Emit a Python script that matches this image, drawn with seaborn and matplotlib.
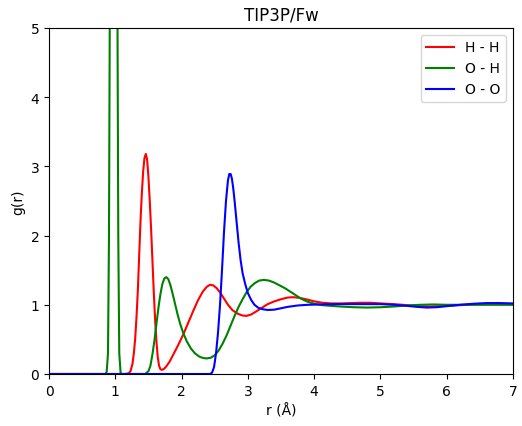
import matplotlib
matplotlib.use("Agg")
import matplotlib.pyplot as plt
import seaborn as sns
import pandas as pd

# H - H
r_hh = [0.0, 1.15, 1.20, 1.23, 1.26, 1.28, 1.30, 1.32, 1.34, 1.36, 1.38, 1.40, 1.42, 1.44,
        1.46, 1.48, 1.50, 1.52, 1.54, 1.56, 1.58, 1.60, 1.62, 1.64, 1.66, 1.68, 1.70,
        1.73, 1.77, 1.82, 1.88, 1.95, 2.03, 2.10, 2.18, 2.25, 2.32, 2.38, 2.43, 2.48,
        2.53, 2.58, 2.64, 2.70, 2.77, 2.85, 2.92, 2.98, 3.05, 3.12, 3.20, 3.30, 3.40,
        3.50, 3.60, 3.68, 3.78, 3.90, 4.00, 4.12, 4.25, 4.40, 4.55, 4.70, 4.85, 5.00,
        5.20, 5.40, 5.60, 5.75, 5.90, 6.10, 6.30, 6.50, 6.75, 7.0]
g_hh = [0.0, 0.0, 0.01, 0.04, 0.15, 0.30, 0.51, 0.82, 1.20, 1.70, 2.20, 2.60, 2.92, 3.12,
        3.18, 3.10, 2.85, 2.50, 2.10, 1.65, 1.20, 0.80, 0.48, 0.25, 0.12, 0.07, 0.06,
        0.07, 0.11, 0.18, 0.29, 0.42, 0.58, 0.74, 0.92, 1.07, 1.19, 1.26, 1.29, 1.28,
        1.24, 1.18, 1.09, 1.00, 0.92, 0.87, 0.845, 0.84, 0.86, 0.90, 0.95, 1.01, 1.05,
        1.08, 1.105, 1.11, 1.10, 1.075, 1.05, 1.03, 1.02, 1.02, 1.025, 1.03, 1.03, 1.02,
        1.01, 0.995, 0.98, 0.975, 0.98, 0.99, 1.00, 1.01, 1.01, 1.01]

# O - H
r_oh = [0.0, 0.85, 0.87, 0.89, 0.905, 0.92, 0.975, 1.03, 1.045, 1.06, 1.08, 1.10,
        1.45, 1.50, 1.53, 1.56, 1.59, 1.62, 1.65, 1.68, 1.71, 1.74, 1.77, 1.80, 1.83,
        1.86, 1.90, 1.94, 1.98, 2.03, 2.08, 2.14, 2.20, 2.27, 2.33, 2.38, 2.44, 2.50,
        2.56, 2.62, 2.68, 2.74, 2.80, 2.86, 2.92, 2.98, 3.04, 3.10, 3.17, 3.24, 3.32,
        3.40, 3.48, 3.56, 3.64, 3.72, 3.80, 3.90, 4.00, 4.12, 4.25, 4.40, 4.60, 4.80,
        5.00, 5.20, 5.40, 5.60, 5.80, 6.00, 6.30, 6.60, 7.0]
g_oh = [0.0, 0.0, 0.03, 0.30, 2.0, 6.0, 36.0, 6.0, 2.0, 0.30, 0.02, 0.0,
        0.0, 0.04, 0.12, 0.28, 0.48, 0.72, 0.95, 1.15, 1.30, 1.38, 1.40, 1.37, 1.29,
        1.18, 1.02, 0.86, 0.72, 0.58, 0.47, 0.37, 0.30, 0.25, 0.23, 0.225, 0.235, 0.27,
        0.34, 0.44, 0.56, 0.70, 0.84, 0.97, 1.08, 1.18, 1.26, 1.31, 1.35, 1.36, 1.35,
        1.32, 1.28, 1.24, 1.19, 1.14, 1.09, 1.045, 1.015, 0.995, 0.985, 0.975, 0.965, 0.96,
        0.965, 0.975, 0.99, 1.00, 1.005, 1.00, 1.00, 1.00, 1.00]

# O - O
r_oo = [0.0, 2.43, 2.46, 2.49, 2.52, 2.55, 2.58, 2.61, 2.64, 2.67, 2.70, 2.72, 2.74,
        2.76, 2.78, 2.80, 2.83, 2.86, 2.89, 2.92, 2.96, 3.00, 3.05, 3.10, 3.16, 3.23,
        3.30, 3.40, 3.50, 3.60, 3.75, 3.90, 4.10, 4.40, 4.70, 5.00, 5.20, 5.40, 5.55,
        5.70, 5.85, 6.00, 6.20, 6.40, 6.60, 6.80, 7.0]
g_oo = [0.0, 0.0, 0.02, 0.10, 0.30, 0.60, 1.00, 1.50, 2.05, 2.50, 2.80, 2.89, 2.89,
        2.82, 2.68, 2.50, 2.20, 1.90, 1.65, 1.46, 1.30, 1.17, 1.07, 1.00, 0.955, 0.935,
        0.925, 0.93, 0.95, 0.97, 0.99, 1.00, 1.005, 1.01, 1.01, 1.01, 1.00, 0.985, 0.97,
        0.96, 0.965, 0.98, 1.00, 1.015, 1.025, 1.025, 1.02]

labels = ["H - H", "O - H", "O - O"]
colors = ["red", "green", "blue"]

df = pd.concat([
    pd.DataFrame({"r": r_hh, "g": g_hh, "pair": labels[0]}),
    pd.DataFrame({"r": r_oh, "g": g_oh, "pair": labels[1]}),
    pd.DataFrame({"r": r_oo, "g": g_oo, "pair": labels[2]}),
], ignore_index=True)

fig = plt.figure(figsize=(5.22, 4.27), dpi=100)
ax = fig.add_axes([49 / 522, 1 - 375 / 427, (513 - 49) / 522, (375 - 29) / 427])
sns.lineplot(data=df, x="r", y="g", hue="pair", palette=dict(zip(labels, colors)),
             estimator=None, sort=False, ax=ax, linewidth=1.5)
ax.set_xlim(0, 7)
ax.set_ylim(0, 5)
ax.set_xticks(range(0, 8))
ax.set_yticks(range(0, 6))
ax.set_title("TIP3P/Fw")
ax.set_xlabel("r (Å)")
ax.set_ylabel("g(r)")
h, l = ax.get_legend_handles_labels()
ax.legend(h, l, loc="upper right")
fig.savefig("out.png", dpi=100)
